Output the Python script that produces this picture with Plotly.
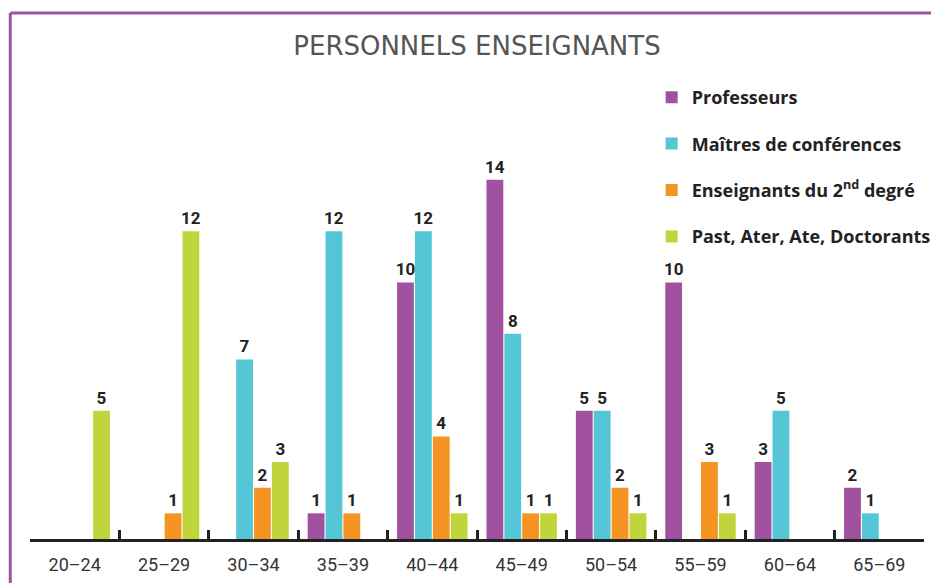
import plotly.graph_objects as go

categories = ["20–24", "25–29", "30–34", "35–39", "40–44", "45–49", "50–54", "55–59", "60–64", "65–69"]
professeurs = [0, 0, 0, 1, 10, 14, 5, 10, 3, 2]
maitres_conf = [0, 0, 7, 12, 12, 8, 5, 0, 5, 1]
second_degre = [0, 1, 2, 1, 4, 1, 2, 3, 0, 0]
past_ater = [5, 12, 3, 0, 1, 1, 1, 1, 0, 0]

series = [
    ("Professeurs", professeurs, "#a0519f"),
    ("Maîtres de conférences", maitres_conf, "#55c6d5"),
    ("Enseignants du 2<sup>nd</sup> degré", second_degre, "#f59323"),
    ("Past, Ater, Ate, Doctorants", past_ater, "#bfd53b"),
]

FONT = "Roboto"
W, H = 931, 575           # page has an 8px body margin
L, R, B = 22, 3, 44
PW = W - L - R
YMAX = 14.5
PH = 372
T = H - B - PH

fig = go.Figure()
for i, (name, vals, col) in enumerate(series):
    fig.add_trace(go.Bar(
        x=categories, y=vals, name=name, marker_color=col, marker_line_width=0,
        text=[str(v) if v else "" for v in vals], textposition="outside",
        constraintext="none",
        textfont=dict(family=FONT, size=17, color="#222222", weight=700),
        cliponaxis=False, legendgroup=f"g{i}",
    ))

base = H - B
fig.update_layout(
    width=W, height=H,
    margin=dict(l=L, r=R, t=T, b=B),
    paper_bgcolor="white", plot_bgcolor="white",
    barmode="group", bargap=0.2, bargroupgap=0.06,
    title=dict(text="PERSONNELS ENSEIGNANTS", x=0.5, xref="paper", xanchor="center",
               y=1 - 38 / H, yanchor="middle",
               font=dict(family="DejaVu Sans", size=26, color="#555555")),
    legend=dict(x=(652 - L) / PW, y=(base - 71) / PH, xref="paper", yref="paper",
                xanchor="left", yanchor="top",
                font=dict(family="Open Sans", size=18, color="#222222", weight=700),
                tracegroupgap=20, itemwidth=30, bgcolor="rgba(0,0,0,0)"),
    showlegend=True,
    xaxis=dict(showline=True, linecolor="#222222", linewidth=2.5,
               ticks="inside", tickson="boundaries", ticklen=9, tickwidth=2.5, tickcolor="#222222",
               tickfont=dict(family=FONT, size=18, color="#333333"), showgrid=False,
               ticklabelstandoff=8),
    yaxis=dict(range=[0, YMAX], visible=False, showgrid=False),
    shapes=[
        dict(type="line", xref="paper", yref="paper", x0=(2 - L) / PW, x1=(2 - L) / PW,
             y0=(base - 5) / PH, y1=-60 / PH, line=dict(color="#a0519f", width=3)),
        dict(type="line", xref="paper", yref="paper", x0=(2 - L) / PW, x1=1.05,
             y0=(base - 5) / PH, y1=(base - 5) / PH, line=dict(color="#a0519f", width=3)),
    ],
)

fig.write_html("out.html")
